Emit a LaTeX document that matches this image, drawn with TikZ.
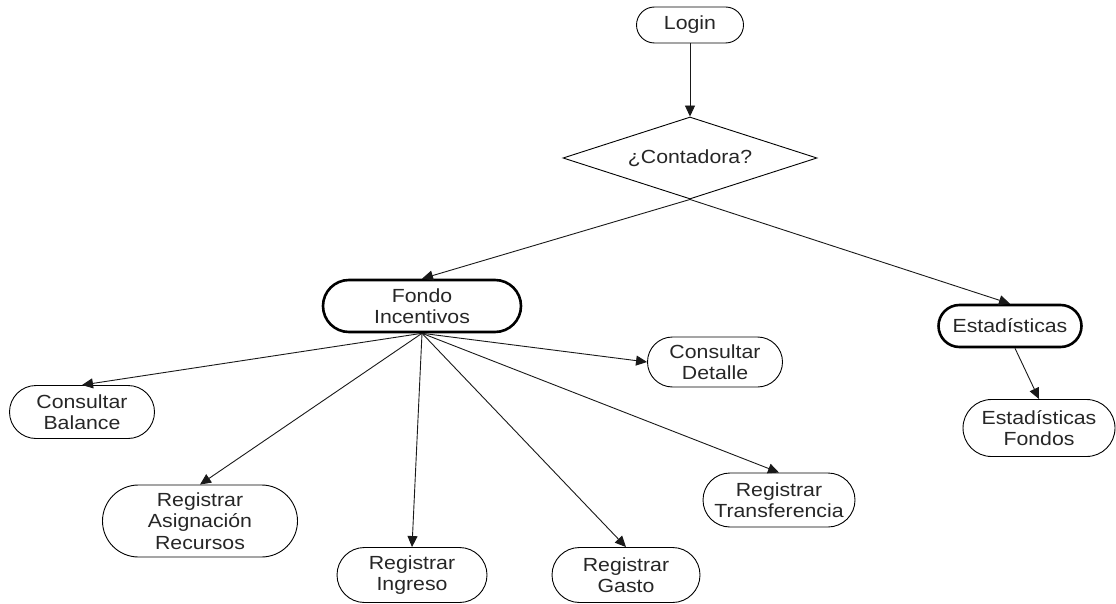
\documentclass[tikz,border=0pt]{standalone}
\usepackage{fontspec}
\setmainfont{Liberation Sans}[FakeStretch=1.12]
\usetikzlibrary{arrows.meta,shapes.geometric,shapes.misc}

\tikzset{
  labelfont/.style={font=\fontsize{19}{21.5}\selectfont},
  term/.style={draw=black, rounded rectangle, line width=0.9pt, inner sep=0pt,
    align=center, labelfont, text=black!85},
  termbold/.style={term, line width=2.6pt},
  decision/.style={draw=black, diamond, aspect=3.1, line width=0.9pt, inner sep=0pt,
    align=center, labelfont, text=black!85},
  flow/.style={draw=black!90, line width=0.9pt, -{Triangle[length=11pt,width=10pt]}},
}

\begin{document}
\begin{tikzpicture}[x=1pt,y=-1pt]
  \useasboundingbox (0,0) rectangle (1116,604);

  % top of the chart
  \node[term, minimum width=107pt, minimum height=36pt] (login) at (690,25) {Login};
  \node[decision, minimum width=254pt, minimum height=82pt] (cont) at (690,158) {¿Contadora?};

  % main modules
  \node[termbold, minimum width=198pt, minimum height=52pt] (fondo) at (422,306) {Fondo\\Incentivos};
  \node[termbold, minimum width=143pt, minimum height=42pt] (est) at (1010,326) {Estadísticas};

  % operations of the incentive fund
  \node[term, minimum width=145pt, minimum height=53pt] (cbal) at (82,412) {Consultar\\Balance};
  \node[term, minimum width=195pt, minimum height=72pt] (rasig) at (200,521) {Registrar\\Asignación\\Recursos};
  \node[term, minimum width=150pt, minimum height=55pt] (ring) at (412,575) {Registrar\\Ingreso};
  \node[term, minimum width=148pt, minimum height=55pt] (rgas) at (626,575) {Registrar\\Gasto};
  \node[term, minimum width=152pt, minimum height=54pt] (rtra) at (779,500) {Registrar\\Transferencia};
  \node[term, minimum width=135pt, minimum height=50pt] (cdet) at (715,362) {Consultar\\Detalle};

  % statistics
  \node[term, minimum width=152pt, minimum height=57pt] (estf) at (1039,428) {Estadísticas\\Fondos};

  % connectors
  \draw[flow] (login.south) -- (cont.north);
  \draw[flow] (cont.south) -- (fondo.north);
  \draw[flow] (cont.south) -- (est.north);

  \draw[flow] (fondo.south) -- (cbal.north);
  \draw[flow] (fondo.south) -- (rasig.north);
  \draw[flow] (fondo.south) -- (ring.north);
  \draw[flow] (fondo.south) -- (rgas.north);
  \draw[flow] (fondo.south) -- (rtra.north);
  \draw[flow] (fondo.south) -- (cdet.west);

  \draw[flow] ([xshift=5pt]est.south) -- (estf.north);
\end{tikzpicture}
\end{document}
